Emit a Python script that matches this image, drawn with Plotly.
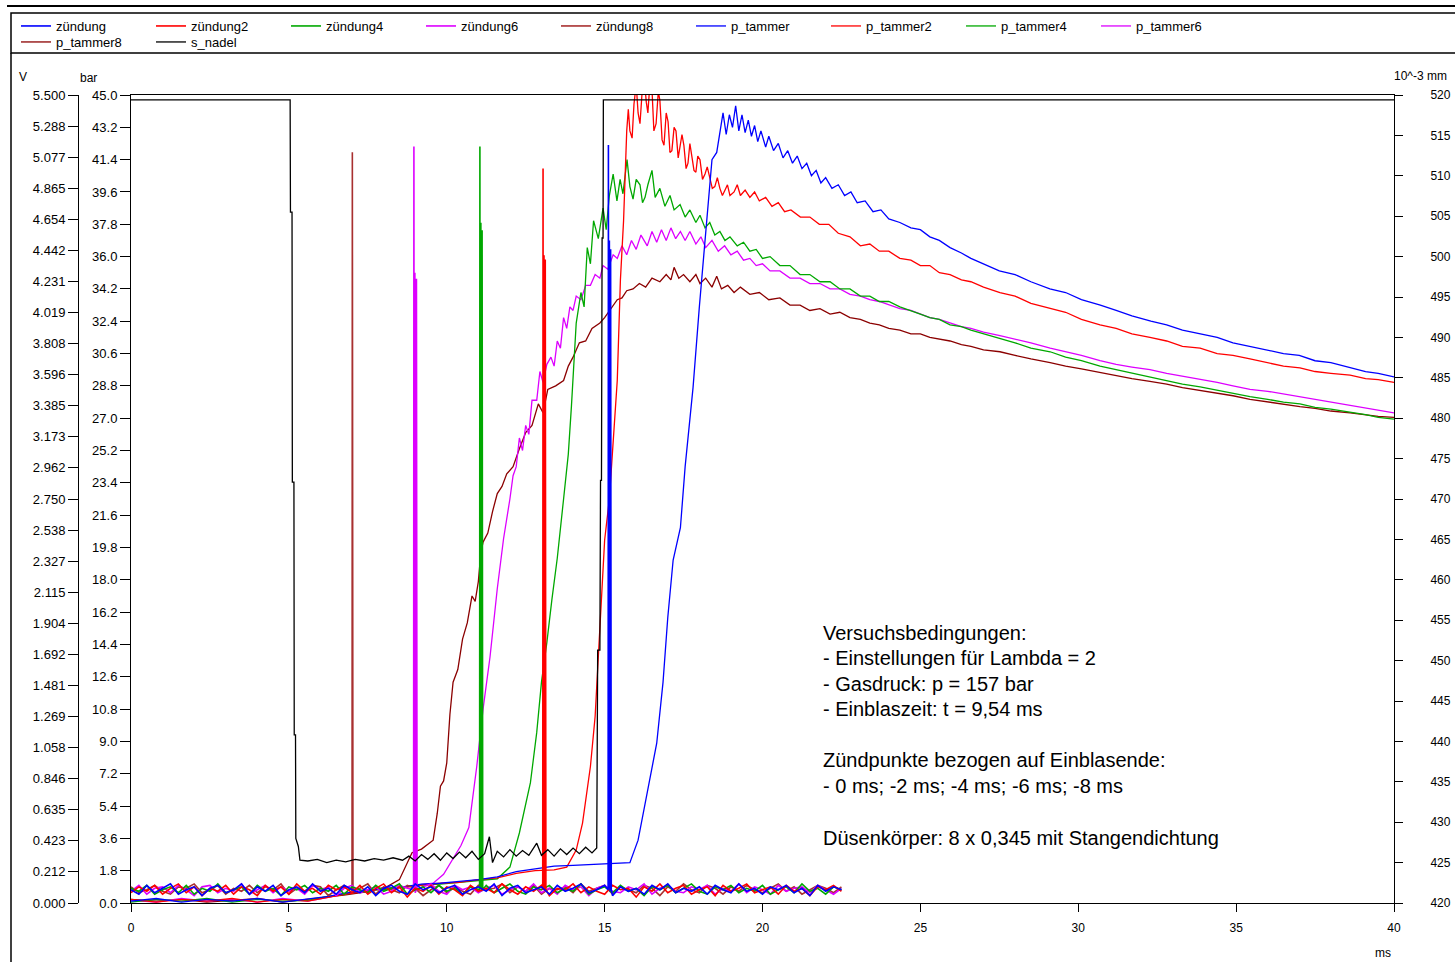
import plotly.graph_objects as go

# ---------------- data ----------------
X_TICKS = [0, 5, 10, 15, 20, 25, 30, 35, 40]
BAR_TICKS = [0.0, 1.8, 3.6, 5.4, 7.2, 9.0, 10.8, 12.6, 14.4, 16.2, 18.0, 19.8, 21.6,
             23.4, 25.2, 27.0, 28.8, 30.6, 32.4, 34.2, 36.0, 37.8, 39.6, 41.4, 43.2, 45.0]
V_TICK_LABELS = ["0.000", "0.212", "0.423", "0.635", "0.846", "1.058", "1.269", "1.481",
                 "1.692", "1.904", "2.115", "2.327", "2.538", "2.750", "2.962", "3.173",
                 "3.385", "3.596", "3.808", "4.019", "4.231", "4.442", "4.654", "4.865",
                 "5.077", "5.288", "5.500"]
MM_TICKS = [420, 425, 430, 435, 440, 445, 450, 455, 460, 465, 470, 475, 480, 485, 490,
            495, 500, 505, 510, 515, 520]

# ignition signals (V): common time grid of the baseline + the pulse at the ignition point
T_BASE = [0.0, 0.25, 0.5, 0.75, 1.0, 1.25, 1.5, 1.75, 2.0, 2.25, 2.5, 2.75, 3.0, 3.25,
          3.5, 3.75, 4.0, 4.25, 4.5, 4.75, 5.0, 5.25, 5.5, 5.75, 6.0, 6.25, 6.5, 6.75,
          7.0, 7.25, 7.5, 7.75, 8.0, 8.25, 8.5, 8.75, 9.0, 9.25, 9.5, 9.75, 10.0, 10.25,
          10.5, 10.75, 11.0, 11.25, 11.5, 11.75, 12.0, 12.25, 12.5, 12.75, 13.0, 13.25,
          13.5, 13.75, 14.0, 14.25, 14.5, 14.75, 15.0, 15.25, 15.5, 15.75, 16.0, 16.25,
          16.5, 16.75, 17.0, 17.25, 17.5, 17.75, 18.0, 18.25, 18.5, 18.75, 19.0, 19.25,
          19.5, 19.75, 20.0, 20.25, 20.5, 20.75, 21.0, 21.25, 21.5, 21.75, 22.0, 22.25,
          22.5]
Z_BASE = [0.09, 0.06, 0.12, 0.07, 0.10, 0.13, 0.06, 0.09, 0.11, 0.05,
          0.10, 0.12, 0.07, 0.09, 0.13, 0.06, 0.11, 0.08, 0.12, 0.05,
          0.09, 0.11, 0.07, 0.13, 0.08, 0.10, 0.06, 0.12, 0.09, 0.07,
          0.11, 0.05, 0.10, 0.12, 0.08, 0.06, 0.13, 0.09, 0.11, 0.07,
          0.10, 0.12, 0.06, 0.09, 0.11, 0.08, 0.13, 0.05, 0.10, 0.12,
          0.07, 0.09, 0.11, 0.06, 0.12, 0.08, 0.10, 0.13, 0.07, 0.09,
          0.12, 0.05, 0.11, 0.08, 0.10, 0.06, 0.12, 0.09, 0.13, 0.07,
          0.10, 0.08, 0.11, 0.06, 0.12, 0.09, 0.07, 0.13, 0.08, 0.10,
          0.06, 0.11, 0.09, 0.12, 0.07, 0.10, 0.05, 0.12, 0.08, 0.11,
          0.09]
Z2_BASE = [0.07, 0.11, 0.08, 0.12, 0.06, 0.10, 0.13, 0.07, 0.11, 0.05,
           0.10, 0.08, 0.12, 0.06, 0.11, 0.09, 0.05, 0.12, 0.08, 0.11,
           0.06, 0.13, 0.08, 0.10, 0.06, 0.12, 0.09, 0.11, 0.07, 0.12,
           0.06, 0.10, 0.13, 0.07, 0.11, 0.04, 0.10, 0.08, 0.12, 0.06,
           0.11, 0.09, 0.05, 0.12, 0.08, 0.10, 0.07, 0.13, 0.09, 0.06,
           0.11, 0.08, 0.12, 0.05, 0.10, 0.09, 0.13, 0.07, 0.11, 0.08,
           0.06, 0.12, 0.09, 0.10, 0.04, 0.11, 0.08, 0.13, 0.07, 0.10,
           0.12, 0.06, 0.09, 0.11, 0.05, 0.12, 0.08, 0.10, 0.13, 0.07,
           0.09, 0.11, 0.06, 0.12, 0.08, 0.10, 0.05, 0.11, 0.09, 0.12,
           0.08]
Z4_BASE = [0.10, 0.08, 0.12, 0.06, 0.09, 0.11, 0.07, 0.12, 0.06, 0.10,
           0.08, 0.13, 0.07, 0.09, 0.11, 0.06, 0.12, 0.08, 0.10, 0.05,
           0.11, 0.09, 0.12, 0.07, 0.10, 0.08, 0.12, 0.06, 0.11, 0.09,
           0.07, 0.12, 0.08, 0.10, 0.13, 0.06, 0.09, 0.11, 0.07, 0.12,
           0.08, 0.10, 0.06, 0.11, 0.09, 0.12, 0.07, 0.10, 0.13, 0.08,
           0.06, 0.11, 0.09, 0.12, 0.07, 0.10, 0.08, 0.13, 0.06, 0.09,
           0.11, 0.07, 0.12, 0.08, 0.10, 0.05, 0.11, 0.09, 0.12, 0.07,
           0.10, 0.13, 0.08, 0.06, 0.11, 0.09, 0.12, 0.07, 0.10, 0.08,
           0.12, 0.06, 0.09, 0.11, 0.07, 0.13, 0.08, 0.10, 0.06, 0.11,
           0.09]
Z6_BASE = [0.08, 0.12, 0.06, 0.10, 0.11, 0.07, 0.12, 0.09, 0.05, 0.11,
           0.12, 0.07, 0.10, 0.08, 0.13, 0.06, 0.09, 0.12, 0.07, 0.11,
           0.08, 0.10, 0.06, 0.12, 0.09, 0.11, 0.05, 0.10, 0.12, 0.07,
           0.09, 0.11, 0.06, 0.08, 0.12, 0.10, 0.07, 0.11, 0.13, 0.08,
           0.06, 0.12, 0.09, 0.11, 0.07, 0.10, 0.12, 0.06, 0.09, 0.11,
           0.08, 0.13, 0.07, 0.10, 0.06, 0.12, 0.09, 0.11, 0.05, 0.10,
           0.12, 0.08, 0.07, 0.11, 0.09, 0.13, 0.06, 0.10, 0.12, 0.08,
           0.07, 0.11, 0.09, 0.12, 0.06, 0.10, 0.08, 0.13, 0.07, 0.11,
           0.09, 0.06, 0.12, 0.08, 0.10, 0.11, 0.07, 0.12, 0.09, 0.06,
           0.10]
Z8_BASE = [0.11, 0.07, 0.09, 0.12, 0.08, 0.06, 0.11, 0.10, 0.13, 0.07,
           0.09, 0.12, 0.06, 0.10, 0.08, 0.12, 0.07, 0.11, 0.09, 0.13,
           0.06, 0.10, 0.08, 0.12, 0.11, 0.05, 0.09, 0.12, 0.08, 0.10,
           0.13, 0.06, 0.11, 0.09, 0.07, 0.12, 0.10, 0.05, 0.09, 0.12,
           0.07, 0.11, 0.08, 0.06, 0.12, 0.09, 0.10, 0.13, 0.07, 0.11,
           0.08, 0.12, 0.06, 0.10, 0.09, 0.11, 0.07, 0.13, 0.08, 0.10,
           0.12, 0.06, 0.11, 0.09, 0.07, 0.12, 0.10, 0.05, 0.11, 0.08,
           0.13, 0.09, 0.07, 0.12, 0.10, 0.06, 0.11, 0.08, 0.12, 0.09,
           0.07, 0.10, 0.13, 0.08, 0.11, 0.06, 0.09, 0.12, 0.10, 0.07,
           0.11]

Z_PULSE = [(15.11, 0.09), (15.12, 5.16), (15.13, 0.10), (15.15, 4.51), (15.17, 0.08),
           (15.19, 4.45), (15.21, 0.09)]
Z2_PULSE = [(13.04, 0.09), (13.05, 5.00), (13.06, 0.10), (13.08, 4.41), (13.10, 0.08),
            (13.12, 4.38), (13.14, 0.09)]
Z4_PULSE = [(11.04, 0.09), (11.05, 5.15), (11.06, 0.10), (11.08, 4.63), (11.10, 0.08),
            (11.12, 4.58), (11.14, 0.09)]
Z6_PULSE = [(8.95, 0.09), (8.96, 5.15), (8.97, 0.10), (8.99, 4.29), (9.02, 0.08),
            (9.04, 4.25), (9.06, 0.09)]
Z8_PULSE = [(6.99, 0.09), (7.01, 5.11), (7.03, 0.09)]

# chamber pressures (bar): (time ms, pressure bar)
P_TAMMER = [(0.0, 0.10), (0.8, 0.25), (1.6, 0.05), (2.4, 0.20), (3.2, 0.10), (4.0, 0.25),
            (4.8, 0.05), (5.6, 0.20), (6.2, 0.35), (6.8, 0.55), (7.4, 0.70), (8.0, 0.80),
            (8.6, 0.90), (9.2, 1.05), (9.8, 1.10), (10.4, 1.20), (11.0, 1.30), (11.6, 1.45),
            (12.2, 1.75), (12.8, 1.90), (13.4, 2.05), (14.0, 2.10), (14.6, 2.15), (15.2, 2.20),
            (15.8, 2.25), (16.06, 3.5), (16.3, 5.7), (16.65, 8.9), (16.85, 12.3), (17.0, 15.9),
            (17.17, 19.1), (17.4, 20.9), (17.55, 24.3), (17.8, 28.7), (18.0, 33.2),
            (18.2, 37.5), (18.4, 41.4), (18.55, 41.8), (18.75, 44.0), (18.85, 42.8),
            (18.95, 43.9), (19.05, 43.2), (19.15, 44.4), (19.25, 43.0), (19.35, 43.9),
            (19.45, 42.9), (19.55, 43.6), (19.65, 42.7), (19.75, 43.3), (19.85, 42.4),
            (19.95, 43.0), (20.1, 42.1), (20.2, 42.7), (20.35, 41.9), (20.5, 42.3),
            (20.65, 41.5), (20.8, 41.9), (20.95, 41.2), (21.1, 41.6), (21.25, 40.9),
            (21.4, 41.2), (21.55, 40.5), (21.7, 40.8), (21.85, 40.1), (22.0, 40.4),
            (22.2, 39.8), (22.4, 40.0), (22.6, 39.4), (22.8, 39.6), (23.0, 39.0),
            (23.25, 39.1), (23.5, 38.5), (23.75, 38.6), (24.0, 38.1), (24.35, 37.9),
            (24.7, 37.6), (25.0, 37.5), (25.3, 37.1), (25.6, 36.9), (25.94, 36.5),
            (26.3, 36.2), (26.6, 35.9), (27.0, 35.6), (27.5, 35.2), (28.0, 35.0),
            (28.5, 34.6), (29.1, 34.2), (29.6, 34.0), (30.1, 33.6), (30.7, 33.3),
            (31.2, 33.0), (31.7, 32.7), (32.3, 32.4), (32.8, 32.2), (33.3, 31.9),
            (33.9, 31.7), (34.4, 31.5), (34.9, 31.2), (35.4, 31.0), (35.9, 30.8),
            (36.5, 30.6), (37.0, 30.5), (37.5, 30.2), (38.0, 30.1), (38.6, 29.85),
            (39.1, 29.6), (39.5, 29.5), (40.0, 29.3)]
P_TAMMER2 = [(0.0, 0.20), (0.8, 0.05), (1.6, 0.20), (2.4, 0.10), (3.2, 0.25), (4.0, 0.05),
             (4.8, 0.20), (5.6, 0.10), (6.2, 0.30), (6.8, 0.50), (7.4, 0.65), (8.0, 0.80),
             (8.6, 0.85), (9.2, 1.00), (9.8, 1.10), (10.4, 1.15), (11.0, 1.30), (11.6, 1.40),
             (12.2, 1.65), (12.8, 1.80), (13.4, 1.85), (13.8, 2.0), (14.1, 2.95), (14.3, 4.45),
             (14.55, 7.6), (14.7, 10.4), (14.8, 13.7), (14.9, 16.8), (15.0, 20.2),
             (15.15, 22.5), (15.27, 25.4), (15.4, 29.1), (15.5, 34.7), (15.6, 38.0),
             (15.7, 43.0), (15.75, 44.2), (15.8, 43.0), (15.87, 42.6), (15.93, 44.5),
             (16.0, 45.6), (16.06, 44.0), (16.12, 43.4), (16.2, 45.5), (16.25, 46.0),
             (16.32, 44.6), (16.37, 44.0), (16.44, 45.8), (16.5, 45.3), (16.56, 43.0),
             (16.63, 43.4), (16.7, 45.2), (16.75, 44.7), (16.82, 42.5), (16.88, 42.2),
             (16.95, 44.0), (17.01, 43.5), (17.07, 41.8), (17.13, 41.9), (17.2, 43.2),
             (17.26, 43.0), (17.33, 41.5), (17.39, 42.1), (17.45, 42.8), (17.51, 42.2),
             (17.58, 40.9), (17.64, 41.2), (17.7, 42.3), (17.77, 41.5), (17.83, 40.8),
             (17.89, 40.7), (17.95, 41.6), (18.02, 41.4), (18.1, 40.3), (18.18, 40.6),
             (18.25, 41.0), (18.33, 40.4), (18.41, 39.8), (18.49, 39.9), (18.57, 40.4),
             (18.65, 39.8), (18.73, 39.4), (18.81, 39.7), (18.89, 40.0), (18.97, 39.4),
             (19.1, 39.6), (19.2, 40.0), (19.3, 39.4), (19.45, 39.7), (19.6, 39.3),
             (19.75, 39.6), (19.9, 39.1), (20.1, 39.3), (20.3, 38.8), (20.5, 39.0),
             (20.7, 38.5), (20.9, 38.6), (21.2, 38.2), (21.5, 38.2), (21.8, 37.8),
             (22.1, 37.8), (22.4, 37.3), (22.77, 37.1), (23.1, 36.6), (23.4, 36.7),
             (23.7, 36.3), (24.0, 36.3), (24.35, 35.9), (24.7, 35.8), (25.0, 35.5),
             (25.3, 35.5), (25.6, 35.1), (25.94, 35.0), (26.3, 34.7), (26.6, 34.6),
             (27.0, 34.3), (27.52, 34.0), (28.0, 33.8), (28.5, 33.4), (29.11, 33.1),
             (29.6, 32.9), (30.1, 32.5), (30.69, 32.2), (31.2, 32.0), (31.7, 31.7),
             (32.27, 31.5), (32.8, 31.3), (33.3, 31.0), (33.86, 30.9), (34.4, 30.6),
             (34.9, 30.5), (35.44, 30.3), (36.0, 30.1), (36.5, 29.9), (37.02, 29.8),
             (37.5, 29.6), (38.0, 29.5), (38.61, 29.4), (39.1, 29.2), (39.5, 29.15),
             (40.0, 29.0)]
P_TAMMER4 = [(0.0, 0.05), (0.8, 0.20), (1.6, 0.10), (2.4, 0.25), (3.2, 0.05), (4.0, 0.20),
             (4.8, 0.10), (5.6, 0.15), (6.2, 0.35), (6.8, 0.50), (7.4, 0.70), (8.0, 0.75),
             (8.6, 0.90), (9.2, 1.00), (9.8, 1.05), (10.4, 1.15), (11.0, 1.25), (11.6, 1.35),
             (12.0, 2.0), (12.3, 3.9), (12.65, 6.7), (12.85, 9.5), (13.0, 12.3),
             (13.17, 14.5), (13.33, 16.9), (13.5, 19.2), (13.7, 22.5), (13.85, 25.0),
             (13.95, 27.7), (14.1, 32.3), (14.25, 34.0), (14.35, 33.2), (14.45, 36.5),
             (14.55, 35.6), (14.65, 38.0), (14.8, 37.0), (14.95, 38.7), (15.05, 37.5),
             (15.15, 39.4), (15.27, 40.6), (15.39, 39.1), (15.49, 40.3), (15.58, 39.5),
             (15.71, 41.4), (15.8, 39.9), (15.9, 39.2), (16.0, 40.3), (16.12, 40.0),
             (16.2, 39.0), (16.28, 39.3), (16.37, 40.0), (16.5, 40.8), (16.6, 39.3),
             (16.75, 39.8), (16.91, 38.8), (17.07, 39.4), (17.2, 38.6), (17.39, 38.9),
             (17.55, 38.2), (17.7, 38.6), (17.89, 37.9), (18.02, 38.3), (18.18, 37.6),
             (18.33, 37.9), (18.49, 37.2), (18.65, 37.4), (18.81, 36.9), (18.97, 37.1),
             (19.2, 36.6), (19.4, 36.8), (19.6, 36.3), (19.8, 36.4), (20.0, 35.9),
             (20.24, 36.0), (20.55, 35.5), (20.87, 35.5), (21.19, 35.0), (21.5, 35.0),
             (21.82, 34.6), (22.14, 34.6), (22.45, 34.2), (22.77, 34.2), (23.1, 33.8),
             (23.4, 33.8), (23.7, 33.5), (24.0, 33.5), (24.35, 33.2), (24.7, 33.0),
             (25.0, 32.8), (25.3, 32.6), (25.6, 32.5), (25.94, 32.2), (26.3, 32.1),
             (26.6, 31.9), (27.0, 31.7), (27.52, 31.4), (28.0, 31.2), (28.5, 30.9),
             (29.11, 30.7), (29.6, 30.4), (30.1, 30.2), (30.69, 29.9), (31.2, 29.7),
             (31.7, 29.5), (32.27, 29.3), (32.8, 29.1), (33.3, 28.9), (33.86, 28.75),
             (34.4, 28.55), (34.9, 28.4), (35.44, 28.2), (36.0, 28.05), (36.5, 27.9),
             (37.02, 27.8), (37.5, 27.6), (38.0, 27.5), (38.61, 27.35), (39.1, 27.2),
             (39.5, 27.05), (40.0, 26.95)]
P_TAMMER6 = [(0.0, 0.15), (0.8, 0.05), (1.6, 0.25), (2.4, 0.10), (3.2, 0.20), (4.0, 0.05),
             (4.8, 0.25), (5.6, 0.10), (6.2, 0.30), (6.8, 0.55), (7.4, 0.65), (8.0, 0.80),
             (8.6, 0.90), (9.2, 1.00), (9.57, 1.10), (9.9, 1.6), (10.2, 2.5), (10.45, 3.2),
             (10.7, 4.2), (10.95, 7.6), (11.15, 10.8), (11.37, 13.7), (11.6, 17.5),
             (11.8, 20.3), (12.0, 22.5), (12.1, 23.8), (12.2, 24.3), (12.3, 25.9),
             (12.4, 25.2), (12.5, 26.6), (12.6, 26.1), (12.7, 28.0), (12.85, 28.0),
             (12.95, 29.6), (13.05, 29.0), (13.17, 30.0), (13.3, 30.4), (13.4, 29.9),
             (13.5, 31.3), (13.6, 30.9), (13.7, 32.6), (13.8, 32.0), (13.9, 33.2),
             (14.0, 33.0), (14.1, 33.8), (14.25, 33.6), (14.4, 34.4), (14.55, 34.4),
             (14.7, 35.0), (14.85, 34.8), (14.95, 35.5), (15.1, 35.3), (15.27, 36.1),
             (15.4, 35.9), (15.55, 36.6), (15.7, 36.1), (15.85, 36.9), (16.0, 36.4),
             (16.15, 37.2), (16.35, 36.6), (16.5, 37.4), (16.65, 36.8), (16.8, 37.5),
             (16.95, 36.9), (17.1, 37.6), (17.25, 37.0), (17.4, 37.4), (17.55, 36.9),
             (17.7, 37.4), (17.89, 36.7), (18.05, 37.1), (18.2, 36.5), (18.4, 36.9),
             (18.6, 36.3), (18.8, 36.6), (19.0, 36.1), (19.2, 36.3), (19.4, 35.8),
             (19.6, 35.9), (19.8, 35.5), (20.0, 35.6), (20.24, 35.2), (20.55, 35.2),
             (20.87, 34.8), (21.19, 34.8), (21.5, 34.5), (21.82, 34.5), (22.14, 34.2),
             (22.45, 34.2), (22.77, 33.9), (23.1, 33.8), (23.4, 33.6), (23.7, 33.5),
             (24.0, 33.3), (24.35, 33.1), (24.7, 33.0), (25.0, 32.8), (25.3, 32.6),
             (25.6, 32.5), (25.94, 32.3), (26.3, 32.1), (26.6, 32.0), (27.0, 31.8),
             (27.52, 31.6), (28.0, 31.4), (28.5, 31.2), (29.11, 30.9), (29.6, 30.7),
             (30.1, 30.5), (30.69, 30.2), (31.2, 30.0), (31.7, 29.85), (32.27, 29.7),
             (32.8, 29.5), (33.3, 29.35), (33.86, 29.15), (34.4, 29.0), (34.9, 28.8),
             (35.44, 28.6), (36.0, 28.5), (36.5, 28.35), (37.02, 28.2), (37.5, 28.05),
             (38.0, 27.9), (38.61, 27.75), (39.1, 27.6), (39.5, 27.45), (40.0, 27.3)]
P_TAMMER8 = [(0.0, 0.20), (0.8, 0.10), (1.6, 0.20), (2.4, 0.05), (3.2, 0.15), (4.0, 0.25),
             (4.8, 0.05), (5.6, 0.20), (6.2, 0.30), (6.8, 0.45), (7.4, 0.60), (8.1, 0.90),
             (8.5, 1.3), (8.75, 2.2), (8.9, 2.8), (9.2, 3.0), (9.4, 3.3), (9.57, 3.5),
             (9.7, 5.0), (9.8, 6.5), (9.9, 6.8), (10.0, 7.8), (10.1, 10.5), (10.2, 12.3),
             (10.35, 13.0), (10.5, 14.7), (10.65, 15.6), (10.8, 17.1), (10.9, 16.8),
             (11.0, 17.9), (11.08, 19.5), (11.15, 20.1), (11.3, 20.6), (11.45, 21.8),
             (11.6, 22.8), (11.75, 23.2), (11.9, 23.9), (12.1, 24.3), (12.3, 25.3),
             (12.5, 26.2), (12.7, 26.6), (12.9, 27.8), (13.05, 27.3), (13.2, 28.6),
             (13.45, 28.8), (13.7, 29.1), (13.85, 29.9), (14.0, 30.4), (14.2, 31.2),
             (14.4, 31.3), (14.6, 32.0), (14.85, 32.3), (15.0, 32.6), (15.2, 33.1),
             (15.4, 33.6), (15.55, 33.7), (15.7, 34.1), (15.9, 34.2), (16.1, 34.5),
             (16.3, 34.3), (16.5, 34.8), (16.75, 34.6), (16.95, 35.0), (17.1, 34.7),
             (17.2, 35.4), (17.35, 34.8), (17.5, 35.0), (17.7, 34.6), (17.89, 35.0),
             (18.02, 34.5), (18.2, 34.8), (18.4, 34.3), (18.55, 34.9), (18.7, 34.2),
             (18.9, 34.4), (19.1, 34.0), (19.3, 34.3), (19.6, 33.9), (19.9, 34.0),
             (20.2, 33.6), (20.55, 33.7), (20.87, 33.3), (21.19, 33.3), (21.5, 33.0),
             (21.82, 33.1), (22.14, 32.8), (22.45, 32.9), (22.77, 32.6), (23.1, 32.5),
             (23.4, 32.3), (23.7, 32.2), (24.0, 32.0), (24.35, 31.9), (24.7, 31.7),
             (25.0, 31.7), (25.3, 31.5), (25.6, 31.4), (25.94, 31.3), (26.3, 31.1),
             (26.6, 31.0), (27.0, 30.8), (27.52, 30.7), (28.0, 30.5), (28.5, 30.3),
             (29.11, 30.1), (29.6, 29.9), (30.1, 29.75), (30.69, 29.55), (31.2, 29.4),
             (31.7, 29.2), (32.27, 29.05), (32.8, 28.9), (33.3, 28.7), (33.86, 28.55),
             (34.4, 28.4), (34.9, 28.25), (35.44, 28.05), (36.0, 27.9), (36.5, 27.8),
             (37.02, 27.65), (37.5, 27.55), (38.0, 27.4), (38.61, 27.3), (39.1, 27.2),
             (39.5, 27.1), (40.0, 27.05)]

# needle lift (10^-3 mm)
S_NADEL = [(0.0, 519.4), (5.04, 519.4), (5.05, 505.5), (5.10, 505.5), (5.11, 472.1),
           (5.16, 472.1), (5.17, 440.8), (5.21, 440.8), (5.22, 428.0), (5.30, 427.0),
           (5.35, 425.3), (5.6, 425.2), (5.9, 425.4), (6.2, 425.0), (6.5, 425.3),
           (6.8, 425.1), (7.1, 425.4), (7.4, 425.2), (7.7, 425.5), (8.0, 425.3),
           (8.3, 425.6), (8.6, 425.3), (8.8, 425.8), (9.0, 425.2), (9.2, 426.0),
           (9.4, 425.4), (9.6, 426.1), (9.8, 425.3), (10.0, 426.2), (10.2, 425.5),
           (10.4, 426.3), (10.6, 425.6), (10.8, 426.4), (11.0, 425.4), (11.2, 426.1),
           (11.35, 428.2), (11.45, 425.0), (11.6, 426.4), (11.8, 425.7), (12.0, 426.6),
           (12.2, 425.8), (12.4, 426.5), (12.6, 425.9), (12.85, 427.4), (13.0, 425.9),
           (13.2, 426.6), (13.4, 425.8), (13.6, 426.7), (13.8, 426.0), (14.0, 426.8),
           (14.2, 426.1), (14.4, 426.9), (14.6, 426.2), (14.75, 426.8), (14.78, 451.3),
           (14.85, 451.3), (14.87, 472.3), (14.9, 472.3), (14.92, 502.3), (14.95, 502.3),
           (14.96, 519.4), (40.0, 519.4)]

ANNOT_LINES = [
    ("Versuchsbedingungen:", 633),
    ("- Einstellungen für Lambda = 2", 658),
    ("- Gasdruck: p = 157 bar", 684),
    ("- Einblaszeit: t = 9,54 ms", 709),
    ("Zündpunkte bezogen auf Einblasende:", 760),
    ("- 0 ms; -2 ms; -4 ms; -6 ms; -8 ms", 786),
    ("Düsenkörper: 8 x 0,345 mit Stangendichtung", 838),
]

# ---------------- layout helpers ----------------
W, H = 1455, 962
ML, MR, MT, MB = 12, 61, 95, 59
PW = W - ML - MR
PH = H - MT - MB


def px(xp):
    return (xp - ML) / PW


def py(yp):
    return (H - MB - yp) / PH


def unzip(pairs):
    return [p[0] for p in pairs], [p[1] for p in pairs]


def ignition(base, pulse):
    pts = sorted(list(zip(T_BASE, base)) + pulse)
    return unzip(pts)


BLUE, RED, GREEN, MAG, BROWN, BROWN2 = "#0000FF", "#FF0000", "#00A800", "#DD00FF", "#8B0000", "#A83030"
FONT = "Liberation Sans, Arial, sans-serif"

fig = go.Figure()

# needle lift
x, y = unzip(S_NADEL)
fig.add_trace(go.Scatter(x=x, y=y, mode="lines", name="s_nadel", yaxis="y3",
                         line=dict(color="black", width=1.3), legend="legend2", legendrank=11))

# pressures
for name, data, col, rank in [("p_tammer8", P_TAMMER8, BROWN, 10),
                              ("p_tammer6", P_TAMMER6, MAG, 9),
                              ("p_tammer4", P_TAMMER4, GREEN, 8),
                              ("p_tammer2", P_TAMMER2, RED, 7),
                              ("p_tammer", P_TAMMER, BLUE, 6)]:
    x, y = unzip(data)
    fig.add_trace(go.Scatter(x=x, y=y, mode="lines", name=name, yaxis="y",
                             line=dict(color=col, width=1.3),
                             legend="legend2" if rank == 10 else "legend", legendrank=rank))

# ignition signals
for name, base, pulse, col, rank in [("zündung8", Z8_BASE, Z8_PULSE, BROWN2, 5),
                                     ("zündung6", Z6_BASE, Z6_PULSE, MAG, 4),
                                     ("zündung4", Z4_BASE, Z4_PULSE, GREEN, 3),
                                     ("zündung2", Z2_BASE, Z2_PULSE, RED, 2),
                                     ("zündung", Z_BASE, Z_PULSE, BLUE, 1)]:
    x, y = ignition(base, pulse)
    fig.add_trace(go.Scatter(x=x, y=y, mode="lines", name=name, yaxis="y2",
                             line=dict(color=col, width=1.6), legend="legend", legendrank=rank))

axis_common = dict(showgrid=False, zeroline=False, showline=True, linecolor="black",
                   linewidth=1, ticks="outside", tickcolor="black", tickwidth=1)
tf13 = dict(family=FONT, size=13, color="black")
tf12 = dict(family=FONT, size=12, color="black")

legend_common = dict(orientation="h", xanchor="left", yanchor="top", entrywidth=90,
                     entrywidthmode="pixels", bgcolor="rgba(0,0,0,0)", borderwidth=0,
                     font=dict(family=FONT, size=13, color="black"), itemwidth=30,
                     traceorder="normal")

fig.update_layout(
    width=W, height=H,
    margin=dict(l=ML, r=MR, t=MT, b=MB, autoexpand=False),
    paper_bgcolor="white", plot_bgcolor="white",
    font=dict(family=FONT, color="black"),
    xaxis=dict(domain=[px(131), 1], range=[0, 40], tickvals=X_TICKS,
               ticktext=[str(v) for v in X_TICKS], ticklen=8, mirror=True,
               ticklabelstandoff=6, tickfont=tf12, **axis_common),
    yaxis=dict(range=[0, 45], tickvals=BAR_TICKS, ticktext=[f"{v:.1f}" for v in BAR_TICKS],
               ticklen=10, anchor="x", tickfont=tf13, **axis_common),
    yaxis2=dict(range=[0, 5.5], tickvals=[float(s) for s in V_TICK_LABELS], ticktext=V_TICK_LABELS,
                ticklen=10, overlaying="y", anchor="free", position=px(78), side="left",
                tickfont=tf13, **axis_common),
    yaxis3=dict(range=[420, 520], tickvals=MM_TICKS, ticktext=[str(v) for v in MM_TICKS],
                ticklen=8, overlaying="y", anchor="x", side="right", ticklabelstandoff=25,
                tickfont=tf12, **axis_common),
    legend=dict(x=px(16), y=py(11), **legend_common),
    legend2=dict(x=px(16), y=py(27), **legend_common),
    showlegend=True,
)

# frame lines (panel border and legend box)
shapes = [
    dict(type="line", xref="paper", yref="paper", x0=px(7), x1=px(1460), y0=py(6), y1=py(6),
         line=dict(color="black", width=2)),
    dict(type="rect", xref="paper", yref="paper", x0=px(11), x1=px(1462), y0=py(53), y1=py(13),
         line=dict(color="black", width=1.5)),
    dict(type="line", xref="paper", yref="paper", x0=px(11), x1=px(11), y0=py(53), y1=py(965),
         line=dict(color="black", width=1.5)),
]
fig.update_layout(shapes=shapes)

# axis unit labels
fig.add_annotation(text="V", xref="paper", yref="paper", x=px(17), y=py(77),
                   xanchor="left", yanchor="middle", showarrow=False, font=tf12)
fig.add_annotation(text="bar", xref="paper", yref="paper", x=px(78), y=py(78),
                   xanchor="left", yanchor="middle", showarrow=False, font=tf12)
fig.add_annotation(text="10^-3 mm", xref="paper", yref="paper", x=px(1392), y=py(76),
                   xanchor="left", yanchor="middle", showarrow=False, font=tf12)
fig.add_annotation(text="ms", xref="paper", yref="paper", x=px(1383), y=py(953),
                   xanchor="center", yanchor="middle", showarrow=False, font=tf12)

# test condition text block
for txt, yy in ANNOT_LINES:
    fig.add_annotation(text=txt, xref="paper", yref="paper", x=px(821), y=py(yy),
                       xanchor="left", yanchor="middle", showarrow=False,
                       font=dict(family=FONT, size=20, color="black"))

fig.write_html("out.html", config={"displayModeBar": False},
               post_script="document.body.style.margin='0px';document.body.style.overflow='hidden';")
